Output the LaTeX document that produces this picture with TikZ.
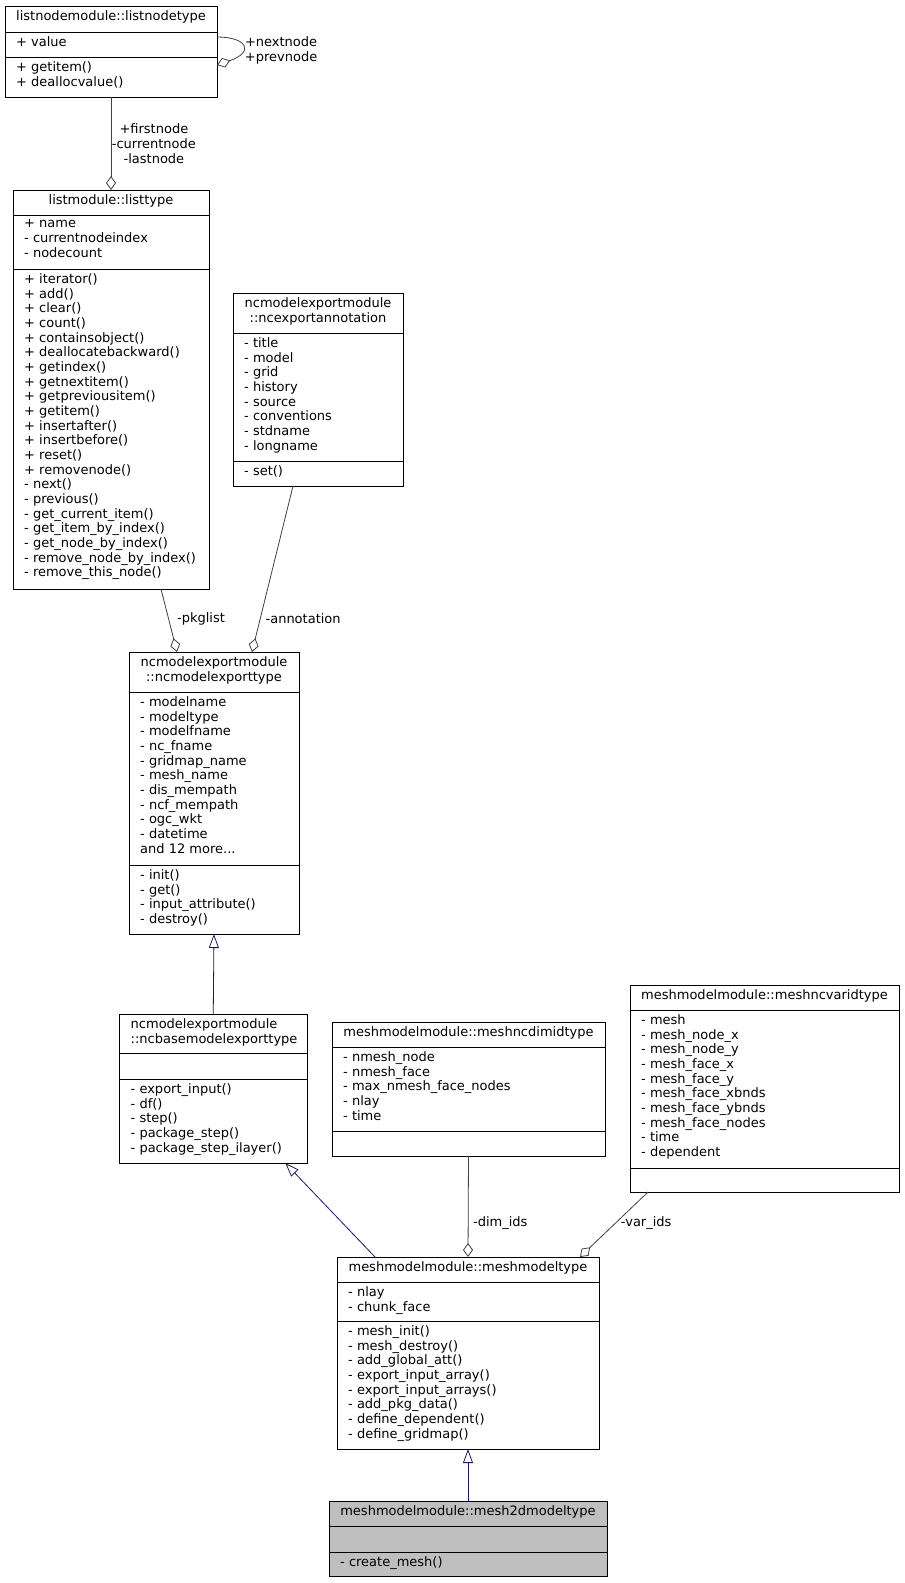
\documentclass[tikz,border=0pt]{standalone}
\usepackage{fontspec}
\setmainfont{DejaVu Sans}
\usepackage{tikz}
\usetikzlibrary{arrows.meta, calc}

\definecolor{edgegrey}{HTML}{404040}
\definecolor{inheritblue}{HTML}{191970}
\definecolor{rootgrey}{HTML}{BFBFBF}

\newcommand{\umlfont}{\fontsize{13}{14.67}\selectfont}
\newcommand{\firstline}{\rule{0pt}{10pt}}

\tikzset{
    box/.style={draw=black, line width=1pt, inner sep=0, outer sep=0},
    sepline/.style={draw=black, line width=1pt},
    title/.style={font=\umlfont, align=center, anchor=north, inner sep=0, execute at begin node=\firstline},
    mem/.style={font=\umlfont, align=left, anchor=north west, inner sep=0, execute at begin node=\firstline},
    lbl/.style={font=\umlfont, align=center, anchor=west, inner sep=0},
    assoc/.style={draw=edgegrey, line width=0.8pt, -{Diamond[open, length=14pt, width=10pt]}},
    inherit/.style={draw=inheritblue, line width=0.8pt, -{Triangle[open, length=14pt, width=10pt]}},
}

% [fill]{name}{left}{top}{right}{sep1}{sep2}{bottom}
\newcommand{\umlclass}[8][white]{%
    \node[box, fill=#1, minimum width={#5-#3}, minimum height={#8-#4}] (#2) at ({(#3+#5)/2},{(#4+#8)/2}) {};
    \draw[sepline] (#3,#6) -- (#5,#6) (#3,#7) -- (#5,#7);
}

\begin{document}
\begin{tikzpicture}[x=1pt, y=-1pt]
    \useasboundingbox[fill=white] (0,0) rectangle (905,1583);

    % list classes
    \umlclass{listnode}{5}{6}{217}{32}{57}{97}
    \node[title] at (111,10.5) {listnodemodule::listnodetype};
    \node[mem] at (16,36.5) {+ value};
    \node[mem] at (16,61.5) {+ getitem()\\+ deallocvalue()};

    \umlclass{listtype}{13}{190}{209}{215}{269}{589}
    \node[title] at (111,194.5) {listmodule::listtype};
    \node[mem] at (24,219.5) {+ name\\- currentnodeindex\\- nodecount};
    \node[mem] at (24,273.5) {+ iterator()\\+ add()\\+ clear()\\+ count()\\+ containsobject()\\+ deallocatebackward()\\+ getindex()\\+ getnextitem()\\+ getpreviousitem()\\+ getitem()\\+ insertafter()\\+ insertbefore()\\+ reset()\\+ removenode()\\- next()\\- previous()\\- get\_current\_item()\\- get\_item\_by\_index()\\- get\_node\_by\_index()\\- remove\_node\_by\_index()\\- remove\_this\_node()};

    % export classes
    \umlclass{annot}{233}{293}{403}{333}{461}{486}
    \node[title] at (318,297.5) {ncmodelexportmodule\\::ncexportannotation};
    \node[mem] at (244,337.5) {- title\\- model\\- grid\\- history\\- source\\- conventions\\- stdname\\- longname};
    \node[mem] at (244,465.5) {- set()};

    \umlclass{exporttype}{129}{652}{299}{692}{865}{934}
    \node[title] at (214,656.5) {ncmodelexportmodule\\::ncmodelexporttype};
    \node[mem] at (140,696.5) {- modelname\\- modeltype\\- modelfname\\- nc\_fname\\- gridmap\_name\\- mesh\_name\\- dis\_mempath\\- ncf\_mempath\\- ogc\_wkt\\- datetime\\and 12 more...};
    \node[mem] at (140,869.5) {- init()\\- get()\\- input\_attribute()\\- destroy()};

    \umlclass{basetype}{119.5}{1014}{307}{1053}{1079}{1163}
    \node[mem] at (130.5,1018.5) {ncmodelexportmodule\\::ncbasemodelexporttype};
    \node[mem] at (130.5,1083.5) {- export\_input()\\- df()\\- step()\\- package\_step()\\- package\_step\_ilayer()};

    % mesh classes
    \umlclass{dimid}{332}{1022}{605}{1047}{1131}{1156}
    \node[title] at (468.5,1026.5) {meshmodelmodule::meshncdimidtype};
    \node[mem] at (343,1051.5) {- nmesh\_node\\- nmesh\_face\\- max\_nmesh\_face\_nodes\\- nlay\\- time};

    \umlclass{varid}{630}{985}{899}{1010}{1168}{1192}
    \node[title] at (764.5,989.5) {meshmodelmodule::meshncvaridtype};
    \node[mem] at (641,1014.5) {- mesh\\- mesh\_node\_x\\- mesh\_node\_y\\- mesh\_face\_x\\- mesh\_face\_y\\- mesh\_face\_xbnds\\- mesh\_face\_ybnds\\- mesh\_face\_nodes\\- time\\- dependent};

    \umlclass{meshmodel}{337}{1257}{599}{1282}{1321}{1449}
    \node[title] at (468,1261.5) {meshmodelmodule::meshmodeltype};
    \node[mem] at (348,1286.5) {- nlay\\- chunk\_face};
    \node[mem] at (348,1325.5) {- mesh\_init()\\- mesh\_destroy()\\- add\_global\_att()\\- export\_input\_array()\\- export\_input\_arrays()\\- add\_pkg\_data()\\- define\_dependent()\\- define\_gridmap()};

    \umlclass[rootgrey]{mesh2d}{329}{1501}{607}{1526}{1552}{1576}
    \node[title] at (468,1505.5) {meshmodelmodule::mesh2dmodeltype};
    \node[mem] at (340,1556.5) {- create\_mesh()};

    % associations
    \coordinate (loopin) at ($(listnode.east)+(0,13.5)$);
    \coordinate (loopout) at ($(listnode.east)+(0,-14.5)$);
    \draw[assoc] (loopout) .. controls ($(loopout)+(30,0)$) and ($(loopin)+(38,-13)$) .. (loopin)
        node[lbl, pos=0.5, xshift=2pt, yshift=-4pt] {+nextnode\\+prevnode};
    \draw[assoc] (listnode.south) -- (listtype.north)
        node[lbl, midway, inner sep=0.5pt] {+firstnode\\-currentnode\\-lastnode};
    \draw[assoc] ($(listtype.south)+(50,0)$) -- ($(exporttype.north)+(-37,0)$)
        node[lbl, pos=0.48, xshift=8pt] {-pkglist};
    \draw[assoc] ($(annot.south)+(-25,0)$) -- ($(exporttype.north)+(38,0)$)
        node[lbl, pos=0.8, xshift=5pt] {-annotation};
    \draw[assoc] (dimid.south) -- (meshmodel.north)
        node[lbl, pos=0.66, xshift=4.5pt] {-dim\_ids};
    \draw[assoc] ($(varid.south)+(-116.5,0)$) -- ($(meshmodel.north)+(112,0)$)
        node[lbl, pos=0.477, xshift=5pt] {-var\_ids};

    % inheritance
    \draw[inherit] (basetype.north) -- (exporttype.south);
    \draw[inherit] ($(meshmodel.north)+(-93,0)$) -- ($(basetype.south)+(72,0)$);
    \draw[inherit] (mesh2d.north) -- (meshmodel.south);
\end{tikzpicture}
\end{document}
